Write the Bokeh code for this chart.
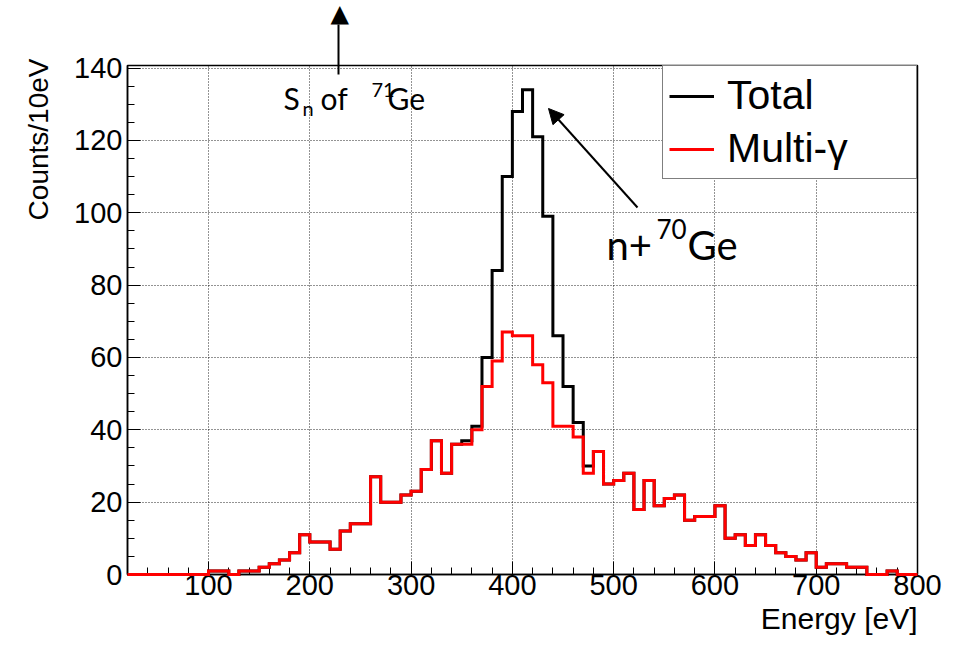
import math
from bokeh.plotting import figure
from bokeh.models import (Range1d, SingleIntervalTicker, FixedTicker, LinearAxis,
                          Legend, LegendItem, Label, Arrow, NormalHead, Title)
from bokeh.embed import file_html
from bokeh.resources import INLINE

# ---------------- data (counts per 10 eV bin, bins from 20 to 800 eV) -------------
bin_low = 20
bin_width = 10
multi_gamma = [0, 0, 0, 0, 0, 0, 0, 0,
               1, 1, 0, 1, 1, 2, 3, 4, 6, 11,
               9, 9, 7, 12, 14, 14, 27, 20, 20, 22,
               23, 29, 37, 28, 36, 36, 40, 52, 59, 67,
               66, 66, 58, 53, 41, 41, 38, 28, 34, 25,
               26, 28, 18, 26, 19, 21, 22, 15, 16, 16,
               19, 10, 11, 8, 11, 8, 6, 5, 4, 6,
               2, 3, 3, 2, 2, 0, 0, 1, 0, 0]
total = [0, 0, 0, 0, 0, 0, 0, 0,
         1, 1, 0, 1, 1, 2, 3, 4, 6, 11,
         9, 9, 7, 12, 14, 14, 27, 20, 20, 22,
         23, 29, 37, 28, 36, 37, 41, 60, 84, 110,
         128, 134, 121, 99, 66, 52, 42, 30, 34, 25,
         26, 28, 18, 26, 19, 21, 22, 15, 16, 16,
         19, 10, 11, 8, 11, 8, 6, 5, 4, 6,
         2, 3, 3, 2, 2, 0, 0, 1, 0, 0]
series_labels = ["Total", "Multi-\u03b3"]
x_title = "Energy [eV]"
y_title = "Counts/10eV"
sn_energy = 228          # S_n marker position (eV)

edges = [bin_low + i * bin_width for i in range(len(total) + 1)]
tot_y = total + [total[-1]]
mg_y = multi_gamma + [multi_gamma[-1]]

# ---------------- layout ----------------
W, H = 958, 645
FL, FR, FT, FB = 127, 917, 65, 574
X0, X1, Y0, Y1 = 20, 800, 0, 140.7


def dx(px):
    return X0 + (px - FL) * (X1 - X0) / (FR - FL)


def dy(py):
    return Y0 + (FB - py) * (Y1 - Y0) / (FB - FT)


p = figure(width=W, height=H, output_backend="svg", toolbar_location=None,
           x_range=Range1d(X0, X1), y_range=Range1d(Y0, Y1),
           min_border_left=FL, min_border_right=W - FR,
           min_border_top=FT, min_border_bottom=H - FB)
p.title.visible = False
p.background_fill_color = "white"
p.border_fill_color = "white"
p.outline_line_color = "black"
p.outline_line_width = 1.5

p.xaxis.ticker = SingleIntervalTicker(interval=100, num_minor_ticks=5)
p.yaxis.ticker = SingleIntervalTicker(interval=20, num_minor_ticks=4)
for ax in (p.xaxis[0], p.yaxis[0]):
    ax.major_tick_in = 13
    ax.major_tick_out = 0
    ax.minor_tick_in = 7
    ax.minor_tick_out = 0
    ax.major_tick_line_color = "black"
    ax.minor_tick_line_color = "black"
    ax.axis_line_color = "black"
    ax.axis_line_width = 1.5
    ax.major_label_text_font = "Liberation Sans"
    ax.major_label_text_font_size = "29px"
    ax.major_label_text_color = "black"
p.xaxis.major_label_standoff = 0
p.yaxis.major_label_standoff = 5

for g in (p.xgrid[0], p.ygrid[0]):
    g.grid_line_color = "black"
    g.grid_line_dash = "1 2"
    g.grid_line_width = 1
    g.grid_line_alpha = 0.85

r_tot = p.step(x=edges, y=tot_y, mode="after", line_color="black",
               line_width=3, line_join="miter", level="overlay")
r_mg = p.step(x=edges, y=mg_y, mode="after", line_color="#ff0000",
              line_width=3, line_join="miter", level="overlay")

legend = Legend(items=[LegendItem(label=series_labels[0], renderers=[r_tot]),
                       LegendItem(label=series_labels[1], renderers=[r_mg])],
                location="top_right", margin=0, padding=6, spacing=6,
                label_height=46, glyph_height=46, glyph_width=45,
                label_standoff=13, label_width=183,
                border_line_color="black", border_line_width=1.5,
                background_fill_color="white", background_fill_alpha=1,
                label_text_font="Liberation Sans", label_text_font_size="41px",
                label_text_color="black")
p.add_layout(legend)

# axis titles (side panels, so they are not clipped by the frame)
p.add_layout(Title(text=x_title, align="right", text_font="Liberation Sans",
                   text_font_size="30px", text_font_style="normal",
                   text_color="black", standoff=4), "below")
p.add_layout(Title(text=y_title, align="right", text_font="Liberation Sans",
                   text_font_size="28px", text_font_style="normal",
                   text_color="black", standoff=35, offset=-7), "left")

# S_n marker: an upward arrow that starts inside the frame and leaves it at the top
sn_axis = LinearAxis(ticker=FixedTicker(ticks=[sn_energy]),
                     major_tick_in=9, major_tick_out=41,
                     major_tick_line_width=2, major_tick_line_color="black",
                     minor_tick_line_color=None, minor_tick_in=0, minor_tick_out=0,
                     axis_line_color=None,
                     major_label_overrides={sn_energy: "\u25b6"},
                     major_label_orientation="vertical",
                     major_label_standoff=0,
                     major_label_text_font="DejaVu Sans",
                     major_label_text_font_size="24px",
                     major_label_text_color="black")
p.add_layout(sn_axis, "above")

# arrow to the n+70Ge resonance
p.add_layout(Arrow(end=NormalHead(size=15, fill_color="black", line_color="black"),
                   x_start=dx(637), y_start=dy(207), x_end=dx(548), y_end=dy(108),
                   line_width=2, line_color="black"))


def add_text(txt, px, py, size):
    p.add_layout(Label(x=dx(px), y=dy(py), text=txt, text_align="left",
                       text_baseline="alphabetic", text_font="Lato",
                       text_font_size=f"{size}px", text_color="black"))


add_text("S", 283, 97, 30)
add_text("n", 302, 107, 20)
add_text("of", 320, 97, 30)
add_text("71", 371, 89, 20)
add_text("Ge", 387, 97, 30)

add_text("n+", 606, 244, 40)
add_text("70", 656, 228, 26)
add_text("Ge", 687, 244, 40)

open("out.html", "w").write(file_html(p, INLINE))
